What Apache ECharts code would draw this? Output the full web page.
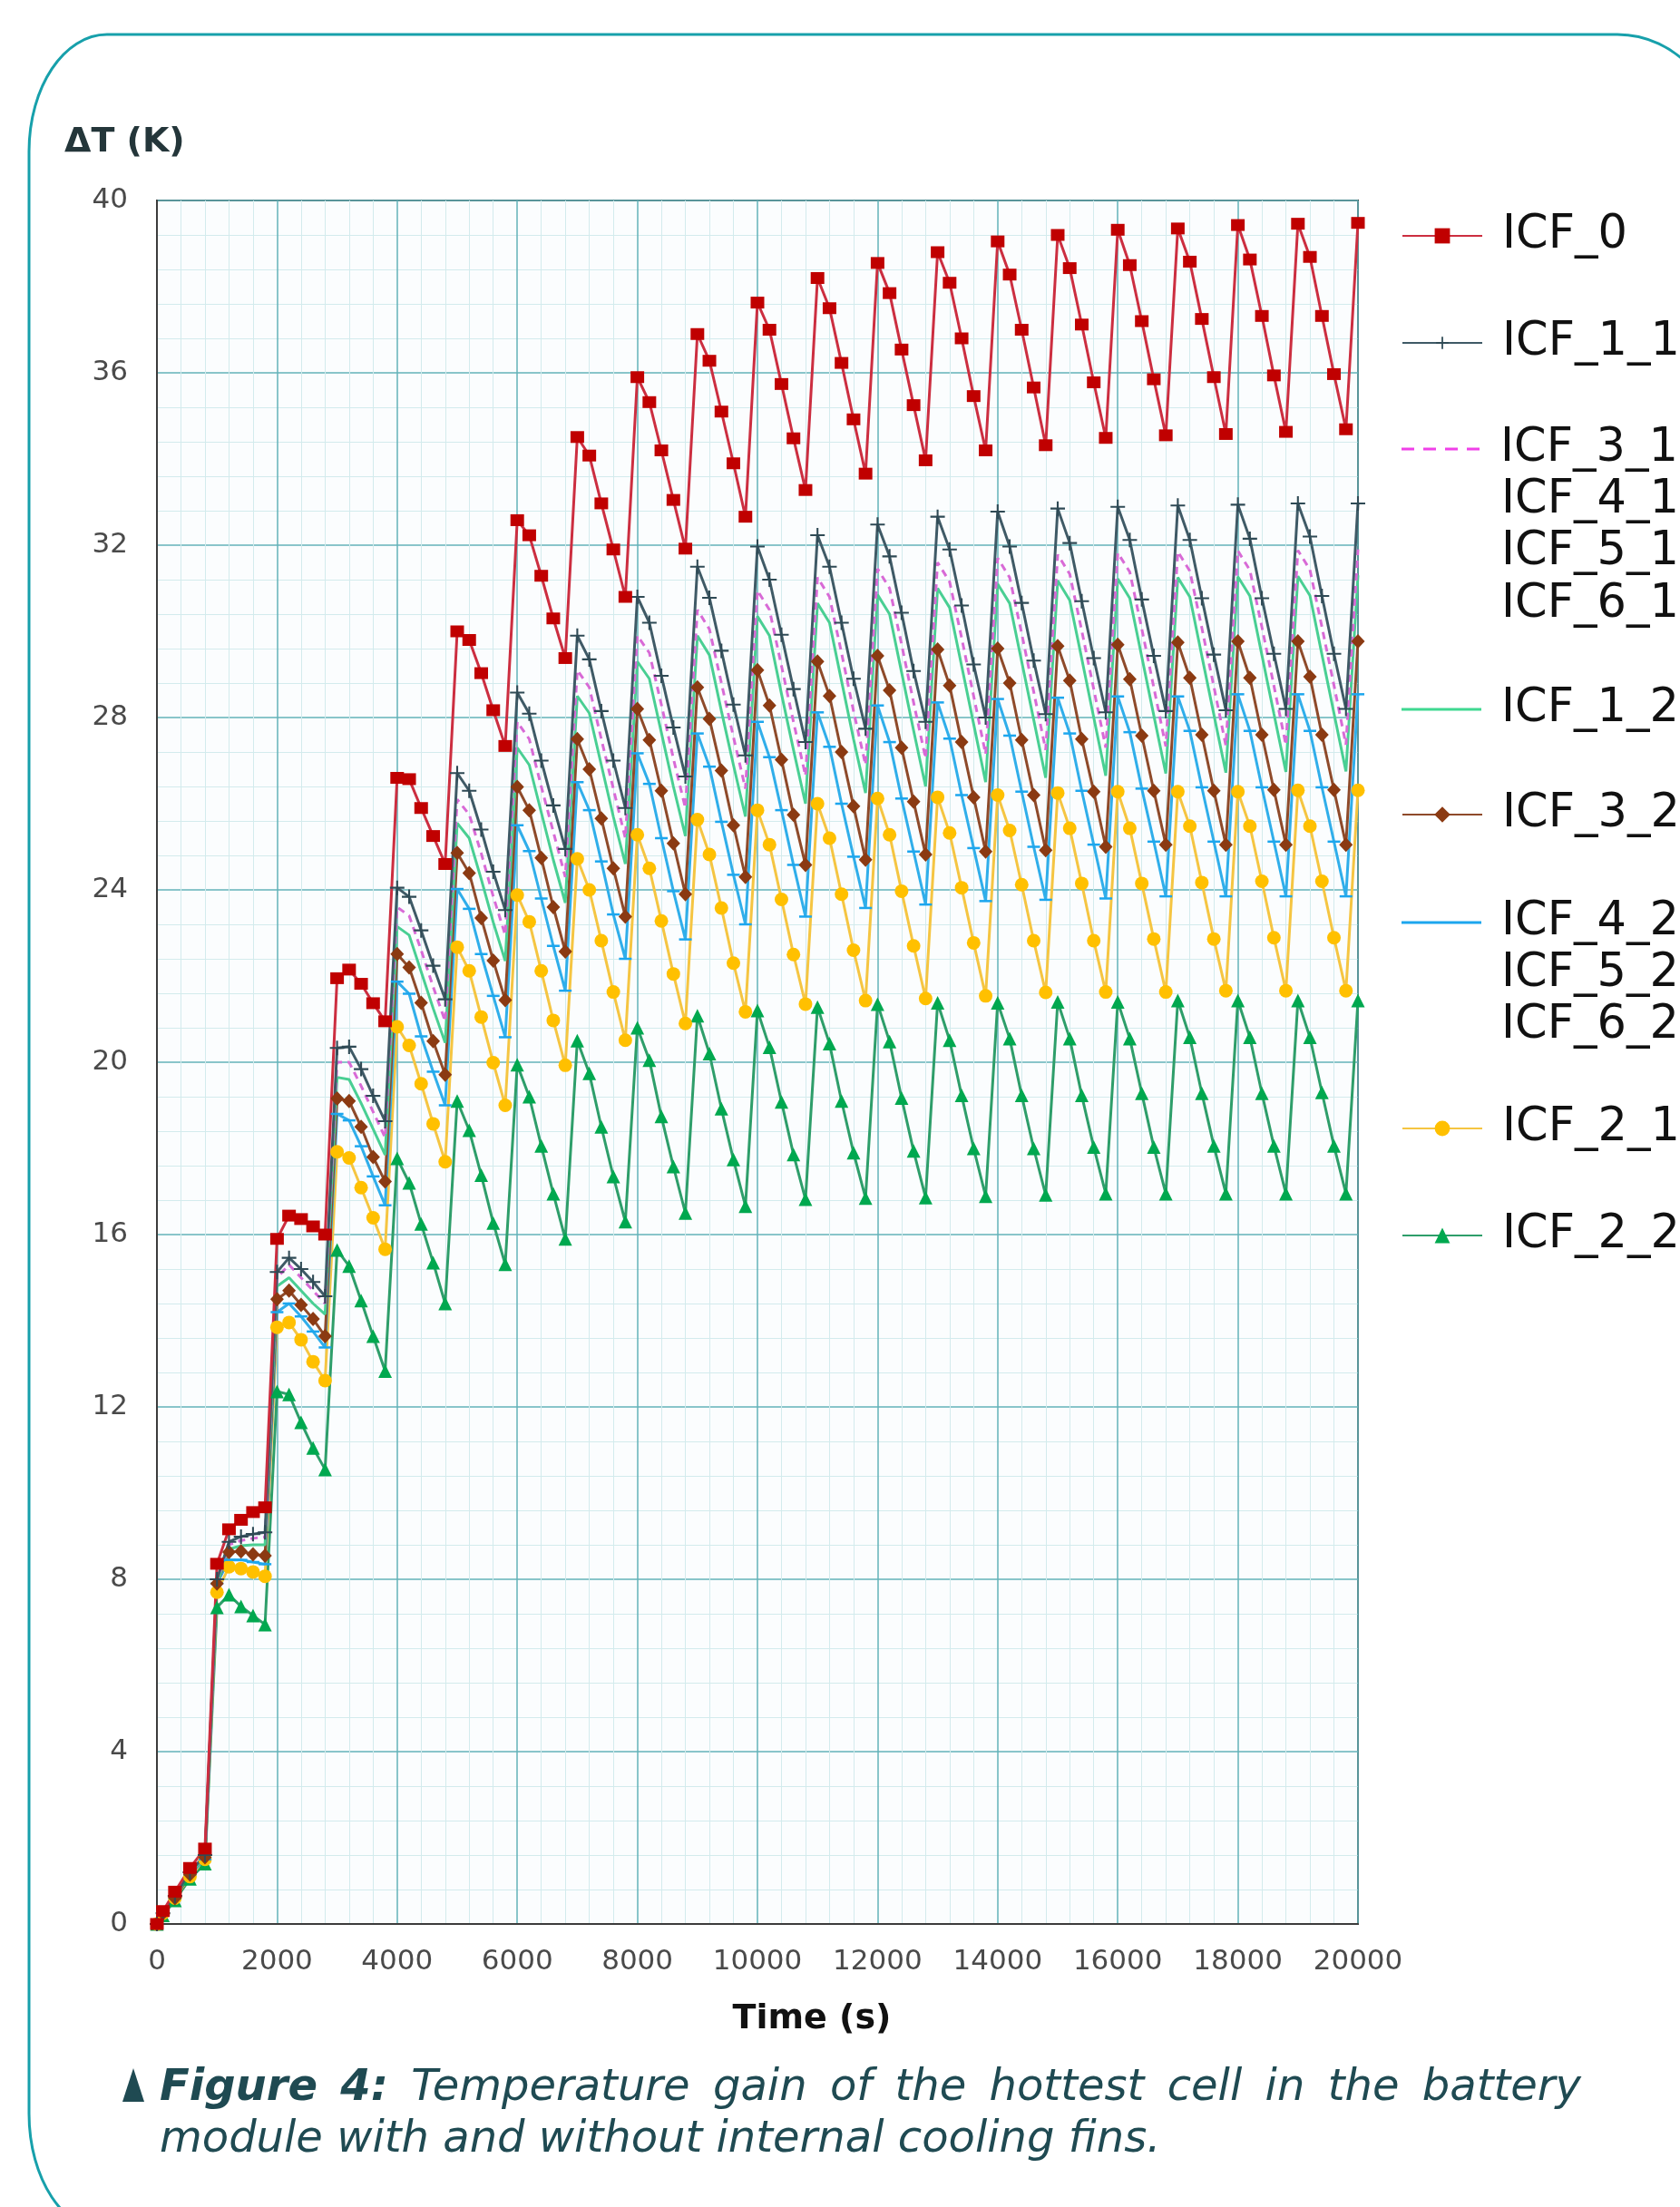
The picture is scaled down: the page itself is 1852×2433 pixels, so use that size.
<!DOCTYPE html>
<html><head><meta charset="utf-8">
<script src="https://cdn.jsdelivr.net/npm/echarts@6/dist/echarts.min.js"></script>
<style>html,body{margin:0;padding:0;background:#fff}#c{width:1852px;height:2433px}</style>
</head><body><div id="c"></div>
<script>
// ---- data (time in s, ΔT in K) ----
const times = [0,100,300,550,800,
1000,1200,1400,1600,1800,2000,2200,2400,2600,2800,3000,3200,3400,3600,3800,
4000,4200,4400,4600,4800,5000,5200,5400,5600,5800,6000,6200,6400,6600,6800,
7000,7200,7400,7600,7800,8000,8200,8400,8600,8800,9000,9200,9400,9600,9800,
10000,10200,10400,10600,10800,11000,11200,11400,11600,11800,12000,12200,12400,12600,12800,
13000,13200,13400,13600,13800,14000,14200,14400,14600,14800,15000,15200,15400,15600,15800,
16000,16200,16400,16600,16800,17000,17200,17400,17600,17800,18000,18200,18400,18600,18800,
19000,19200,19400,19600,19800,20000];

const ICF_0 = [0,0.3,0.75,1.3,1.75,
8.36,9.16,9.38,9.56,9.67, 15.9,16.44,16.36,16.19,16.0, 21.95,22.15,21.82,21.37,20.95,
26.6,26.57,25.9,25.25,24.6, 30.0,29.8,29.03,28.17,27.34, 32.58,32.23,31.29,30.3,29.38,
34.51,34.08,32.97,31.9,30.8, 35.9,35.32,34.2,33.05,31.92, 36.9,36.28,35.1,33.9,32.66,
37.63,37.0,35.74,34.48,33.28, 38.2,37.5,36.23,34.92,33.66, 38.55,37.85,36.54,35.25,33.97,
38.8,38.09,36.8,35.46,34.2, 39.05,38.28,37.0,35.66,34.32, 39.2,38.43,37.12,35.78,34.49,
39.32,38.5,37.2,35.85,34.55, 39.35,38.58,37.25,35.9,34.58, 39.43,38.63,37.32,35.94,34.63,
39.46,38.69,37.32,35.97,34.69, 39.48];

const ICF_1_1 = [0,0.25,0.65,1.2,1.6,
8.0,8.87,8.99,9.05,9.09, 15.13,15.46,15.2,14.9,14.57, 20.33,20.36,19.84,19.22,18.63,
24.05,23.84,23.06,22.24,21.46, 26.71,26.3,25.4,24.42,23.53, 28.58,28.09,27.0,25.96,24.95,
29.9,29.35,28.15,27.0,25.9, 30.8,30.2,28.97,27.77,26.63, 31.5,30.78,29.55,28.3,27.12,
31.97,31.2,29.92,28.66,27.43, 32.23,31.5,30.2,28.9,27.74, 32.48,31.74,30.43,29.08,27.9,
32.66,31.9,30.6,29.23,28.0, 32.78,31.97,30.66,29.32,28.08, 32.85,32.05,30.7,29.38,28.12,
32.89,32.12,30.74,29.43,28.15, 32.92,32.12,30.77,29.46,28.17, 32.94,32.15,30.77,29.48,28.2,
32.97,32.2,30.82,29.48,28.2, 32.97];

const ICF_3_1 = [0,0.25,0.65,1.2,1.6,
7.95,8.8,8.9,8.95,8.98, 15.0,15.3,15.0,14.7,14.4, 20.0,20.0,19.45,18.85,18.25,
23.6,23.4,22.6,21.75,20.95, 26.1,25.75,24.85,23.85,22.95, 27.9,27.5,26.4,25.35,24.3,
29.1,28.7,27.5,26.35,25.2, 29.9,29.5,28.3,27.05,25.9, 30.5,30.05,28.8,27.55,26.35,
30.95,30.5,29.2,27.9,26.65, 31.25,30.8,29.5,28.15,26.9, 31.45,31.0,29.7,28.35,27.05,
31.6,31.15,29.85,28.5,27.15, 31.7,31.25,29.95,28.6,27.25, 31.78,31.33,30.02,28.66,27.3,
31.82,31.38,30.06,28.7,27.33, 31.85,31.4,30.08,28.72,27.35, 31.87,31.42,30.1,28.74,27.36,
31.88,31.43,30.1,28.75,27.37, 31.9];

const ICF_1_2 = [0,0.25,0.62,1.17,1.55,
7.9,8.7,8.78,8.8,8.8, 14.8,15.0,14.7,14.4,14.15, 19.65,19.6,19.05,18.45,17.85,
23.15,22.95,22.1,21.25,20.45, 25.55,25.2,24.25,23.25,22.35, 27.3,26.9,25.8,24.7,23.7,
28.5,28.1,26.9,25.7,24.6, 29.3,28.9,27.65,26.4,25.25, 29.9,29.45,28.15,26.9,25.7,
30.35,29.9,28.55,27.25,26.0, 30.65,30.2,28.85,27.5,26.25, 30.85,30.4,29.05,27.7,26.4,
31.0,30.55,29.2,27.85,26.5, 31.1,30.65,29.3,27.95,26.6, 31.18,30.72,29.37,28.0,26.65,
31.22,30.77,29.41,28.05,26.7, 31.25,30.8,29.43,28.07,26.72, 31.27,30.82,29.45,28.09,26.74,
31.28,30.83,29.46,28.1,26.75, 31.3];

const ICF_3_2 = [0,0.25,0.6,1.15,1.55,
7.9,8.63,8.65,8.58,8.55, 14.5,14.7,14.37,14.04,13.64, 19.16,19.1,18.5,17.8,17.23,
22.51,22.2,21.38,20.49,19.71, 24.86,24.39,23.35,22.36,21.44, 26.39,25.85,24.74,23.6,22.57,
27.5,26.8,25.66,24.5,23.38, 28.2,27.48,26.3,25.08,23.9, 28.7,27.97,26.77,25.5,24.3,
29.1,28.28,27.02,25.74,24.58, 29.3,28.5,27.2,25.94,24.7, 29.43,28.63,27.3,26.05,24.82,
29.58,28.74,27.43,26.15,24.89, 29.6,28.8,27.48,26.2,24.92, 29.66,28.86,27.5,26.28,25.0,
29.69,28.89,27.58,26.3,25.05, 29.74,28.92,27.6,26.3,25.05, 29.77,28.92,27.6,26.32,25.05,
29.77,28.95,27.6,26.32,25.05, 29.77];

const ICF_4_2 = [0,0.25,0.6,1.15,1.5,
7.9,8.45,8.45,8.4,8.35, 14.2,14.4,14.1,13.75,13.38, 18.8,18.65,18.05,17.35,16.68,
21.87,21.59,20.6,19.78,19.0, 24.02,23.56,22.51,21.54,20.58, 25.5,24.9,23.8,22.7,21.66,
26.5,25.85,24.66,23.43,22.4, 27.17,26.46,25.2,23.97,22.85, 27.63,26.86,25.58,24.35,23.2,
27.9,27.08,25.85,24.58,23.38, 28.12,27.32,26.0,24.77,23.58, 28.28,27.43,26.12,24.89,23.66,
28.35,27.51,26.2,24.97,23.74, 28.43,27.58,26.28,25.0,23.77, 28.46,27.63,26.3,25.05,23.8,
28.49,27.66,26.35,25.12,23.85, 28.49,27.69,26.38,25.12,23.85, 28.54,27.69,26.38,25.12,23.85,
28.54,27.69,26.38,25.12,23.85, 28.54];

const ICF_2_1 = [0,0.25,0.6,1.1,1.5,
7.7,8.29,8.25,8.17,8.07, 13.85,13.96,13.56,13.05,12.61, 17.92,17.78,17.09,16.39,15.66,
20.82,20.39,19.5,18.57,17.69, 22.67,22.12,21.05,19.99,19.0, 23.88,23.26,22.12,20.97,19.93,
24.72,24.0,22.82,21.63,20.51, 25.28,24.5,23.28,22.05,20.9, 25.63,24.82,23.58,22.3,21.17,
25.85,25.05,23.78,22.5,21.35, 26.0,25.2,23.9,22.6,21.43, 26.12,25.28,23.97,22.7,21.48,
26.15,25.32,24.05,22.77,21.54, 26.2,25.38,24.12,22.82,21.62, 26.25,25.43,24.15,22.82,21.63,
26.28,25.43,24.15,22.86,21.63, 26.28,25.48,24.17,22.86,21.66, 26.28,25.48,24.2,22.89,21.66,
26.31,25.48,24.2,22.89,21.66, 26.31];

const ICF_2_2 = [0,0.2,0.55,1.05,1.4,
7.35,7.64,7.37,7.16,6.95, 12.36,12.29,11.64,11.05,10.55, 15.64,15.27,14.47,13.64,12.83,
17.77,17.2,16.25,15.35,14.4, 19.1,18.42,17.38,16.27,15.31, 19.94,19.2,18.06,16.95,15.9,
20.5,19.74,18.5,17.35,16.3, 20.8,20.05,18.74,17.58,16.5, 21.08,20.2,18.92,17.74,16.66,
21.2,20.35,19.08,17.86,16.82, 21.28,20.43,19.1,17.9,16.85, 21.35,20.48,19.17,17.94,16.86,
21.38,20.51,19.23,18.0,16.89, 21.38,20.55,19.23,18.0,16.92, 21.4,20.55,19.23,18.03,16.95,
21.4,20.55,19.28,18.03,16.95, 21.43,20.58,19.28,18.06,16.95, 21.43,20.58,19.28,18.06,16.95,
21.43,20.58,19.3,18.06,16.95, 21.43];

const xTicks = [0,2000,4000,6000,8000,10000,12000,14000,16000,18000,20000];
const yTicks = [0,4,8,12,16,20,24,28,32,36,40];

const legendNames = ['ICF_0','ICF_1_1','ICF_3_1','ICF_1_2','ICF_3_2','ICF_4_2','ICF_2_1','ICF_2_2'];
const legendExtraLines = [['ICF_4_1','ICF_5_1','ICF_6_1'],['ICF_5_2','ICF_6_2']];
const captionLine1 = [['Figure',true],['4:',true],['Temperature',false],['gain',false],['of',false],['the',false],['hottest',false],['cell',false],['in',false],['the',false],['battery',false]];
const captionLine2 = 'module with and without internal cooling fins.';

// ---- styling / layout ----
const FONT = '"DejaVu Sans", Verdana, sans-serif';
const PLOT = {left:173, top:221, width:1324, height:1900};
const pairs = arr => times.map((t,i)=>[t, arr[i]]);
const plusPath = 'path://M4.35,0h1.3v4.35h4.35v1.3h-4.35v4.35h-1.3v-4.35h-4.35v-1.3h4.35z';

function lineSeries(name, arr, color, lineColor, symbol, size, extra){
  return Object.assign({
    name, type:'line', data: pairs(arr), clip:false,
    symbol, symbolSize:size, showSymbol: symbol !== 'none',
    lineStyle:{color: lineColor, width:3},
    itemStyle:{color: color},
    emphasis:{disabled:true}, animation:false
  }, extra||{});
}

const series = [
  lineSeries('ICF_2_2', ICF_2_2, '#00A84F', '#2E9E6A', 'triangle', 15),
  lineSeries('ICF_2_1', ICF_2_1, '#FFC000', '#F5C542', 'circle', 15),
  lineSeries('ICF_4_2', ICF_4_2, '#1CA6EE', '#30AEEA', 'rect', [14,2.5]),
  lineSeries('ICF_3_2', ICF_3_2, '#8B3A12', '#8E4A2A', 'diamond', [15,16]),
  lineSeries('ICF_1_2', ICF_1_2, '#3FD890', '#49CF93', 'none', 1),
  lineSeries('ICF_3_1', ICF_3_1, '#E24FDF', '#D86AD6', 'none', 1, {lineStyle:{color:'#D86AD6', width:3, type:[8,6]}}),
  lineSeries('ICF_1_1', ICF_1_1, '#2F4A55', '#3F5A66', plusPath, 16),
  lineSeries('ICF_0', ICF_0, '#C00000', '#CC2E40', 'rect', [15,13]),
];

const legendY = {ICF_0:260, ICF_1_1:378, ICF_3_1:495, ICF_1_2:782, ICF_3_2:898, ICF_4_2:1017, ICF_2_1:1244, ICF_2_2:1362};
const legendItemH = {ICF_0:21, ICF_1_1:17, ICF_3_2:22, ICF_2_1:21, ICF_2_2:21};
const legendIcons = {
  ICF_3_1: 'path://M0,0h14v3h-14z M24,0h14v3h-14z M48,0h14v3h-14z M72,0h14v3h-14z',
  ICF_1_2: 'path://M0,0h88v3h-88z',
  ICF_4_2: 'path://M0,0h88v3h-88z'
};
const legendIconColor = {ICF_3_1:'#F040E8', ICF_1_2:'#3FD890', ICF_4_2:'#1CA6EE'};

const legends = legendNames.map(n => {
  const custom = legendIcons[n];
  return {
    left:1545, top: legendY[n]-28, padding:0, orient:'horizontal',
    itemWidth:88, itemHeight: custom ? 3 : legendItemH[n],
    selectedMode:false,
    data: [custom ? {name:n, icon:custom, itemStyle:{color:legendIconColor[n]}} : {name:n}],
    textStyle:{fontSize:51, fontFamily:FONT, color:'#111', lineHeight:56, padding:[0,0,0,17]}
  };
});

// ---- graphic elements ----
const FRAME = '#17A0AB';
const graphics = [];
const fs = {stroke:FRAME, lineWidth:3, fill:null};
graphics.push({type:'line', silent:true, shape:{x1:32,y1:167,x2:32,y2:2330}, style:fs});
graphics.push({type:'line', silent:true, shape:{x1:118,y1:38,x2:1783,y2:38}, style:fs});
graphics.push({type:'bezierCurve', silent:true, shape:{x1:32,y1:167,cpx1:32,cpy1:95.8,cpx2:70.5,cpy2:38,x2:118,y2:38}, style:fs});
graphics.push({type:'bezierCurve', silent:true, shape:{x1:1783,y1:38,cpx1:1847.6,cpy1:38,cpx2:1900,cpy2:95.8,x2:1900,y2:167}, style:fs});
graphics.push({type:'bezierCurve', silent:true, shape:{x1:32,y1:2330,cpx1:32,cpy1:2402,cpx2:70,cpy2:2460,x2:118,y2:2460}, style:fs});
graphics.push({type:'text', left:71, top:138, style:{text:'ΔT (K)', font:'bold 38px '+FONT, fill:'#24363A'}});
graphics.push({type:'text', x:895, y:2226, style:{text:'Time (s)', font:'bold 38px '+FONT, fill:'#111', align:'center', verticalAlign:'middle'}});
[[legendExtraLines[0],[552,609,667]],[legendExtraLines[1],[1074,1131]]].forEach(([names,ys])=>{
  names.forEach((n,i)=>graphics.push({type:'text', x:1655, y:ys[i], style:{text:n, font:'51px '+FONT, fill:'#111', verticalAlign:'middle'}}));
});
const capColor = '#1F4A52';
graphics.push({type:'polygon', shape:{points:[[135,2317],[147,2280],[159,2317]]}, style:{fill:capColor}});
(function(){
  const cv = document.createElement('canvas').getContext('2d');
  const size = 48;
  const fB = 'italic bold '+size+'px '+FONT, fR = 'italic '+size+'px '+FONT;
  const widths = captionLine1.map(([w,b])=>{cv.font = b?fB:fR; return cv.measureText(w).width;});
  const x0 = 176, x1 = 1743;
  const total = widths.reduce((a,b)=>a+b,0);
  const gap = (x1-x0-total)/(captionLine1.length-1);
  let x = x0;
  captionLine1.forEach(([w,b],i)=>{
    graphics.push({type:'text', x:x, y:2303, style:{text:w, font:(b?fB:fR), fill:capColor, verticalAlign:'middle'}});
    x += widths[i]+gap;
  });
  graphics.push({type:'text', x:x0, y:2360, style:{text:captionLine2, font:fR, fill:capColor, verticalAlign:'middle'}});
})();

const chart = echarts.init(document.getElementById('c'), null, {renderer:'canvas'});
chart.setOption({
  animation:false,
  backgroundColor:'#ffffff',
  grid: Object.assign({show:true, borderColor:'#3C3C3C', borderWidth:2, backgroundColor:'#FBFDFE', containLabel:false}, PLOT),
  xAxis:{type:'value', min:xTicks[0], max:xTicks[xTicks.length-1], interval:xTicks[1]-xTicks[0],
    axisLine:{show:true, onZero:false, lineStyle:{color:'#3C3C3C', width:2}},
    axisTick:{show:false}, minorTick:{show:false, splitNumber:5},
    axisLabel:{fontSize:31, fontFamily:FONT, color:'#4A4A4A', margin:26, formatter: v => String(v)},
    splitLine:{show:true, lineStyle:{color:'#63B2B8', width:1.5}},
    minorSplitLine:{show:true, lineStyle:{color:'#D3EBED', width:1}}},
  yAxis:{type:'value', min:yTicks[0], max:yTicks[yTicks.length-1], interval:yTicks[1]-yTicks[0],
    axisLine:{show:true, lineStyle:{color:'#3C3C3C', width:2}},
    axisTick:{show:false}, minorTick:{show:false, splitNumber:5},
    axisLabel:{fontSize:31, fontFamily:FONT, color:'#4A4A4A', margin:32, formatter: v => String(v)},
    splitLine:{show:true, lineStyle:{color:'#63B2B8', width:1.5}},
    minorSplitLine:{show:true, lineStyle:{color:'#D3EBED', width:1}}},
  legend: legends,
  series: series,
  graphic: graphics
});
</script></body></html>
